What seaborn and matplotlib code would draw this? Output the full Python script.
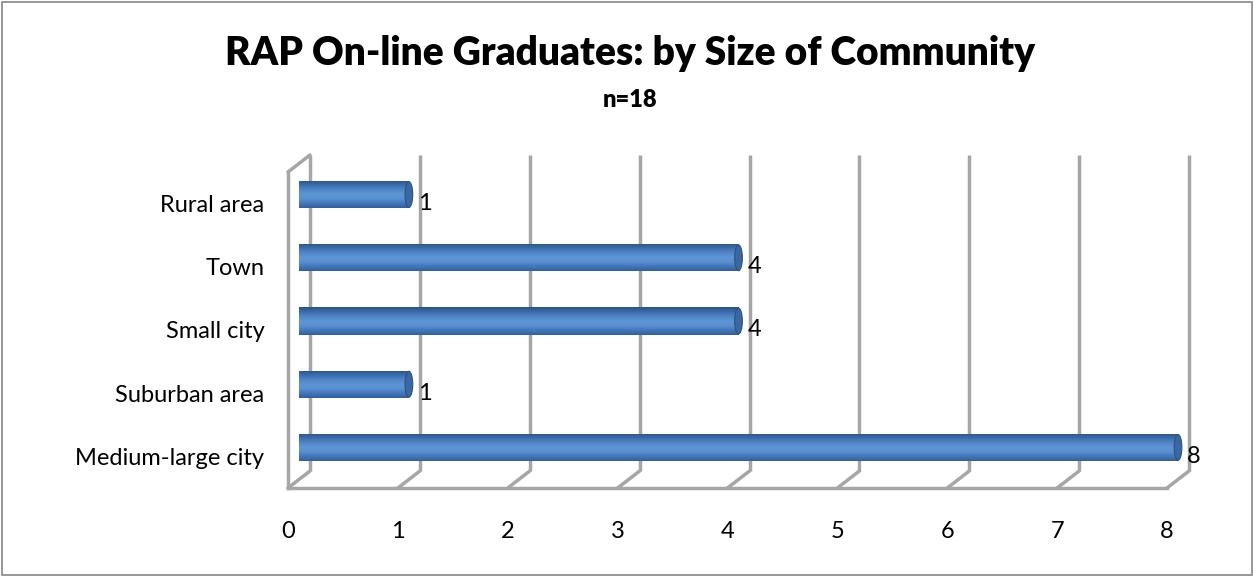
import numpy as np
import pandas as pd
import matplotlib
matplotlib.use('Agg')
import matplotlib.pyplot as plt
import matplotlib.transforms as mtransforms
from matplotlib.patches import Ellipse, Rectangle
from matplotlib.colors import LinearSegmentedColormap
import seaborn as sns

# Data
categories = ['Rural area', 'Town', 'Small city', 'Suburban area', 'Medium-large city']
graduates = [1, 4, 4, 1, 8]
x_ticks = [0, 1, 2, 3, 4, 5, 6, 7, 8]
title = 'RAP On-line Graduates: by Size of Community'
subtitle = 'n=18'

df = pd.DataFrame({'Community': categories, 'Graduates': graduates})

sns.set_style('white')
plt.rcParams['font.family'] = ['Lato', 'DejaVu Sans']
plt.rcParams['text.color'] = 'black'
plt.rcParams['xtick.labelcolor'] = 'black'
plt.rcParams['ytick.labelcolor'] = 'black'

fig = plt.figure(figsize=(12.53, 5.76), dpi=100)
ax = fig.add_axes([288 / 1253, 88 / 576, 879 / 1253, 316 / 576])

grid_col = '#a6a6a6'
depth = (22, 17)        # back wall offset in pixels
bar_off = (11, 9)       # bars sit mid-depth

back = mtransforms.offset_copy(ax.transData, fig, x=depth[0], y=depth[1], units='dots')
mid = mtransforms.offset_copy(ax.transData, fig, x=bar_off[0], y=bar_off[1], units='dots')
lab = mtransforms.offset_copy(ax.transData, fig, x=20, y=0, units='dots')

n = len(categories)
ymin, ymax = n - 0.5, -0.5

ax.set_xlim(0, 8)
ax.set_ylim(ymin, ymax)

# back wall gridlines + floor diagonals
for t in x_ticks:
    ax.plot([t, t], [ymin, ymax], color=grid_col, lw=2.5, transform=back,
            zorder=1, clip_on=False, solid_capstyle='butt')
    p0 = ax.transData.transform((t, ymin))
    p1 = back.transform((t, ymin))
    ax.plot([p0[0], p1[0]], [p0[1], p1[1]], color=grid_col, lw=2.5,
            transform=None, zorder=1, clip_on=False)
# left wall top edge
p0 = ax.transData.transform((0, ymax))
p1 = back.transform((0, ymax))
ax.plot([p0[0], p1[0]], [p0[1], p1[1]], color=grid_col, lw=2.5,
        transform=None, zorder=1, clip_on=False)

# bars
sns.barplot(data=df, y='Community', x='Graduates', orient='h', width=0.43,
            color='#4f81bd', ax=ax, zorder=3)

cmap = LinearSegmentedColormap.from_list(
    'cyl', ['#2c5282', '#3d6cab', '#4f84c6', '#5e95d6', '#5890d2', '#4677b8', '#355f99'])
grad = np.linspace(0, 1, 64).reshape(-1, 1)
for p in list(ax.patches):
    x0, y0 = p.get_x(), p.get_y()
    w, h = p.get_width(), p.get_height()
    p.set_transform(mid)
    p.set_edgecolor('none')
    p.set_clip_on(False)
    im = ax.imshow(grad, cmap=cmap, extent=[x0, x0 + w, y0 + h, y0],
                   aspect='auto', transform=mid, zorder=3, interpolation='bilinear')
    clip = Rectangle((x0, y0), w, h, transform=mid, facecolor='none', edgecolor='none')
    ax.add_patch(clip)
    im.set_clip_path(clip)
    cap = Ellipse((x0 + w, y0 + h / 2), width=0.07, height=h * 0.95, transform=mid,
                  facecolor='#3b67a3', edgecolor='#2c5282', lw=0.8, zorder=4,
                  clip_on=False)
    ax.add_patch(cap)

ax.set_xlim(0, 8)
ax.set_ylim(ymin, ymax)

# data labels
for i, v in enumerate(graduates):
    ax.text(v, i, str(v), transform=lab, va='center', ha='left',
            fontsize=17, color='black', zorder=5, clip_on=False)

# axes styling
for s in ['top', 'right']:
    ax.spines[s].set_visible(False)
for s in ['left', 'bottom']:
    ax.spines[s].set_color(grid_col)
    ax.spines[s].set_linewidth(2.5)
ax.set_xticks(x_ticks)
ax.set_yticks(np.arange(-0.5, n, 1.0))
ax.set_yticklabels([])
ax.set_yticks(np.arange(n), minor=True)
ax.set_yticklabels(categories, minor=True)
ax.tick_params(axis='y', which='major', length=8, width=2, color=grid_col, direction='out')
ax.tick_params(axis='y', which='minor', length=0, pad=17, labelsize=17)
ax.tick_params(axis='x', length=8, width=2, color=grid_col, direction='out',
               pad=16, labelsize=17)
ax.set_xlabel('')
ax.set_ylabel('')
ax.set_facecolor('none')

fig.text(630 / 1253, 1 - 53 / 576, title, ha='center', va='center',
         fontsize=28, fontweight='heavy', color='black')
fig.text(630 / 1253, 1 - 100 / 576, subtitle, ha='center', va='center',
         fontsize=17, fontweight='heavy', color='black')

fig.patches.append(Rectangle((1.5 / 1253, 1.5 / 576), 1 - 3 / 1253, 1 - 3 / 576,
                             transform=fig.transFigure, fill=False,
                             edgecolor='#868686', lw=1.2))

fig.savefig('out.png', dpi=100)
